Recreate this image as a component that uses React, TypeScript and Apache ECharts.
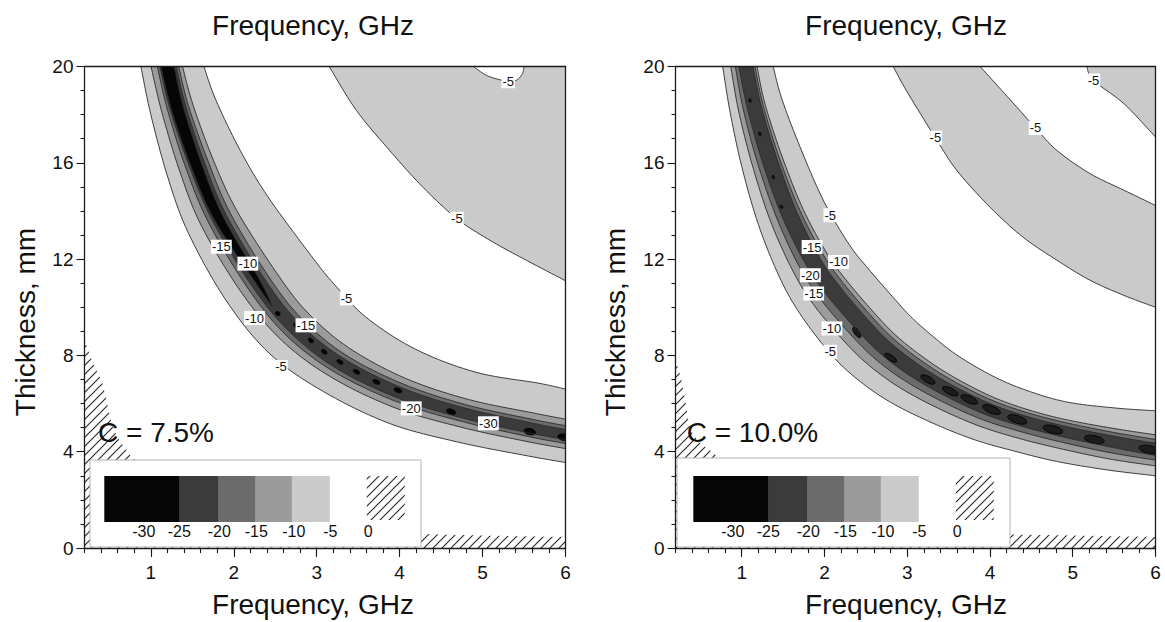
import React, { useEffect, useRef } from "react";
import * as echarts from "echarts";

type P = [number, number];

// ---------- axes / text ----------
const X_MIN = 0.2;
const X_MAX = 6;
const Y_MIN = 0;
const Y_MAX = 20;
const xTickLabels = [1, 2, 3, 4, 5, 6];
const legendLevels = ["-30", "-25", "-20", "-15", "-10", "-5", "0"];
const panelTitles = ["C = 7.5%", "C = 10.0%"];

// ---------- Panel A (C = 7.5 %) : contour lines [frequency GHz, thickness mm] ----------
const aLo5: P[] = [[0.88, 20], [1.0, 18.0], [1.2, 15.45], [1.45, 13.1], [1.906, 10.29], [2.43, 8.08], [3.08, 6.5], [3.88, 5.17], [4.69, 4.41], [5.49, 3.86], [6.0, 3.55]];
const aLo10: P[] = [[1.002, 20], [1.133, 18.1], [1.35, 15.63], [1.613, 13.36], [2.089, 10.63], [2.576, 8.63], [3.177, 7.09], [3.945, 5.82], [4.738, 5.02], [5.524, 4.43], [6.0, 4.13]];
const aLo15: P[] = [[1.078, 20], [1.204, 18.16], [1.429, 15.72], [1.7, 13.49], [2.17, 10.79], [2.63, 8.84], [3.213, 7.31], [3.97, 6.07], [4.757, 5.25], [5.537, 4.64], [6.0, 4.34]];
const aLo20: P[] = [[1.108, 20], [1.236, 18.18], [1.473, 15.78], [1.748, 13.57], [2.22, 10.88], [2.669, 8.99], [3.238, 7.46], [3.985, 6.22], [4.768, 5.39], [5.546, 4.79], [6.0, 4.5]];
const aHi20: P[] = [[1.306, 20], [1.424, 18.32], [1.649, 15.99], [1.911, 13.82], [2.372, 11.17], [2.777, 9.39], [3.31, 7.9], [4.029, 6.65], [4.8, 5.8], [5.571, 5.21], [6.0, 4.92]];
const aHi15: P[] = [[1.336, 20], [1.455, 18.35], [1.693, 16.04], [1.959, 13.9], [2.423, 11.26], [2.815, 9.54], [3.335, 8.05], [4.044, 6.81], [4.812, 5.94], [5.58, 5.36], [6.0, 5.08]];
const aHi10: P[] = [[1.382, 20], [1.51, 18.39], [1.754, 16.11], [2.036, 14.02], [2.514, 11.44], [2.884, 9.8], [3.381, 8.33], [4.069, 7.05], [4.83, 6.17], [5.596, 5.62], [6.0, 5.35]];
const aHi5: P[] = [[1.64, 20], [1.785, 18.6], [2.08, 16.5], [2.41, 14.6], [2.92, 12.2], [3.2, 11.0], [3.59, 9.6], [4.19, 8.26], [4.92, 7.3], [5.67, 6.85], [6.0, 6.6]];
const aLo25: P[] = [[1.12, 20], [1.251, 18.19], [1.49, 15.8], [1.772, 13.6], [2.271, 10.98], [2.47, 10.0]];
const aHi25: P[] = [[1.28, 20], [1.393, 18.3], [1.614, 15.94], [1.872, 13.76], [2.322, 11.07], [2.47, 10.0]];
const aMinima: P[] = [[2.53, 9.74], [2.75, 9.25], [2.93, 8.62], [3.09, 8.15], [3.28, 7.73], [3.48, 7.32], [3.72, 6.9], [3.98, 6.55], [4.62, 5.66], [5.57, 4.83], [5.98, 4.6]];
const aFar5: P[] = [[3.15, 20], [3.48, 18.17], [3.88, 16.51], [4.28, 14.99], [4.69, 13.68], [5.09, 12.78], [5.49, 12.02], [6.0, 11.1]];
const aIsland5: P[] = [[4.89, 20], [5.05, 19.63], [5.25, 19.42], [5.4, 19.42], [5.48, 19.7], [5.5, 20]];
const aZero: P[] = [[0.2, 8.65], [0.3, 7.7], [0.415, 6.83], [0.52, 5.3], [0.6, 4.6], [0.72, 4.0], [0.8, 3.7], [1.0, 3.0], [1.4, 2.1], [2.0, 1.3], [3.0, 0.85], [4.0, 0.62], [5.0, 0.52], [6.0, 0.46]];
const aLabelText = ["-15", "-10", "-5", "-10", "-15", "-5", "-20", "-30", "-5", "-5"];
const aLabelPos: P[] = [[1.85, 12.51], [2.17, 11.81], [3.36, 10.37], [2.25, 9.55], [2.87, 9.25], [2.57, 7.52], [4.14, 5.8], [5.07, 5.18], [4.69, 13.68], [5.31, 19.39]];

// ---------- Panel B (C = 10.0 %) ----------
const bLo5: P[] = [[0.77, 20], [0.86, 18.1], [1.0, 15.85], [1.2, 13.45], [1.45, 11.3], [1.7, 9.75], [2.07, 8.08], [2.4, 7.0], [2.8, 6.05], [3.3, 5.2], [3.81, 4.5], [4.3, 4.02], [4.8, 3.6], [5.4, 3.25], [6.0, 3.0]];
const bLo10: P[] = [[0.868, 20], [0.961, 18.18], [1.124, 15.95], [1.344, 13.61], [1.612, 11.55], [1.866, 10.12], [2.235, 8.6], [2.541, 7.58], [2.91, 6.66], [3.37, 5.81], [3.867, 5.07], [4.342, 4.56], [4.833, 4.14], [5.423, 3.71], [6.0, 3.41]];
const bLo15: P[] = [[0.923, 20], [1.018, 18.23], [1.19, 16.01], [1.424, 13.7], [1.697, 11.68], [1.957, 10.32], [2.318, 8.86], [2.611, 7.86], [2.965, 6.96], [3.406, 6.11], [3.896, 5.35], [4.363, 4.84], [4.85, 4.41], [5.436, 3.97], [6.0, 3.65]];
const bLo20: P[] = [[0.965, 20], [1.068, 18.27], [1.248, 16.05], [1.488, 13.77], [1.773, 11.79], [2.032, 10.49], [2.385, 9.08], [2.669, 8.1], [3.01, 7.21], [3.434, 6.36], [3.919, 5.58], [4.38, 5.06], [4.863, 4.63], [5.448, 4.2], [6.0, 3.84]];
const bHi20: P[] = [[1.136, 20], [1.232, 18.4], [1.423, 16.2], [1.664, 13.97], [1.943, 12.05], [2.19, 10.84], [2.52, 9.5], [2.784, 8.57], [3.1, 7.71], [3.492, 6.86], [3.966, 6.05], [4.414, 5.5], [4.89, 5.07], [5.472, 4.66], [6.0, 4.35]];
const bHi15: P[] = [[1.16, 20], [1.257, 18.42], [1.453, 16.22], [1.704, 14.02], [1.994, 12.13], [2.24, 10.95], [2.565, 9.64], [2.822, 8.73], [3.13, 7.88], [3.511, 7.03], [3.982, 6.2], [4.425, 5.65], [4.899, 5.22], [5.479, 4.81], [6.0, 4.51]];
const bHi10: P[] = [[1.185, 20], [1.282, 18.44], [1.489, 16.25], [1.744, 14.06], [2.037, 12.2], [2.281, 11.05], [2.603, 9.76], [2.854, 8.86], [3.155, 8.02], [3.527, 7.17], [3.995, 6.33], [4.435, 5.77], [4.907, 5.34], [5.487, 4.97], [6.0, 4.7]];
const bHi5: P[] = [[1.38, 20], [1.49, 18.6], [1.73, 16.45], [2.0, 14.35], [2.3, 12.6], [2.53, 11.6], [2.82, 10.45], [3.04, 9.62], [3.3, 8.82], [3.62, 7.97], [4.07, 7.08], [4.49, 6.49], [4.95, 6.05], [5.53, 5.81], [6.0, 5.7]];
const bMinima: P[] = [[1.1, 18.59], [1.22, 17.2], [1.38, 15.41], [1.48, 14.17], [2.39, 8.95], [2.8, 7.9], [3.25, 7.0], [3.52, 6.51], [3.75, 6.17], [4.02, 5.75], [4.33, 5.34], [4.76, 4.92], [5.26, 4.51], [5.92, 4.1]];
const bFar5a: P[] = [[2.83, 20], [2.99, 19.0], [3.34, 17.04], [3.6, 15.68], [4.0, 14.16], [4.4, 12.91], [4.81, 11.95], [5.21, 11.12], [5.62, 10.49], [6.0, 10.0]];
const bFar5b: P[] = [[3.88, 20], [4.21, 18.75], [4.55, 17.45], [4.81, 16.51], [5.21, 15.55], [5.62, 14.86], [6.0, 14.23]];
const bFar5c: P[] = [[5.17, 20], [5.25, 19.42], [5.62, 18.45], [6.0, 17.07]];
const bZero: P[] = [[0.2, 7.8], [0.27, 7.0], [0.33, 5.9], [0.38, 4.95], [0.5, 4.35], [0.64, 4.0], [0.75, 3.65], [1.0, 2.9], [1.4, 2.05], [2.0, 1.3], [3.0, 0.85], [4.0, 0.6], [5.0, 0.52], [6.0, 0.46]];
const bLabelText = ["-5", "-15", "-10", "-20", "-15", "-10", "-5", "-5", "-5", "-5"];
const bLabelPos: P[] = [[2.07, 13.82], [1.85, 12.5], [2.17, 11.88], [1.83, 11.33], [1.87, 10.57], [2.09, 9.12], [2.07, 8.15], [3.34, 17.04], [4.55, 17.45], [5.25, 19.42]];

// ---------- styles ----------
const FONT = "'Liberation Sans', Arial, Helvetica, sans-serif";
const C5 = "#cacaca";
const C10 = "#9b9b9b";
const C15 = "#6b6b6b";
const C20 = "#3b3b3b";
const C25 = "#060606";
const LINE = "#2b2b2b";
const AXIS = "#1a1a1a";
const HATCH_URL =
  "data:image/svg+xml;charset=utf-8," +
  encodeURIComponent(
    '<svg xmlns="http://www.w3.org/2000/svg" width="9" height="9"><path d="M-1 10L10 -1M-1 1L1 -1M8 10L10 8" stroke="#2b2b2b" stroke-width="1.2"/></svg>'
  );
const hatchFill: any = { image: HATCH_URL, repeat: "repeat", imageWidth: 9, imageHeight: 9 };

function catmull(pts: number[][], seg = 10): number[][] {
  if (pts.length < 3) return pts.slice();
  const out: number[][] = [];
  for (let i = 0; i < pts.length - 1; i++) {
    const p0 = pts[Math.max(i - 1, 0)];
    const p1 = pts[i];
    const p2 = pts[i + 1];
    const p3 = pts[Math.min(i + 2, pts.length - 1)];
    for (let s = 0; s < seg; s++) {
      const t = s / seg;
      const t2 = t * t;
      const t3 = t2 * t;
      const f = (k: number) =>
        0.5 *
        (2 * p1[k] +
          (-p0[k] + p2[k]) * t +
          (2 * p0[k] - 5 * p1[k] + 4 * p2[k] - p3[k]) * t2 +
          (-p0[k] + 3 * p1[k] - 3 * p2[k] + p3[k]) * t3);
      out.push([f(0), f(1)]);
    }
  }
  out.push(pts[pts.length - 1]);
  return out;
}

const panels: any[] = [
  {
    zero: aZero,
    fills: [
      { kind: "corner", lo: aFar5, color: C5 },
      { kind: "closed", lo: aIsland5, color: "#ffffff" },
      { kind: "band", lo: aLo5, hi: aHi5, color: C5 },
      { kind: "band", lo: aLo10, hi: aHi10, color: C10 },
      { kind: "band", lo: aLo15, hi: aHi15, color: C15 },
      { kind: "band", lo: aLo20, hi: aHi20, color: C20 },
      { kind: "band", lo: aLo25, hi: aHi25, color: C25 },
    ],
    lines: [aFar5, aIsland5, aLo5, aHi5, aLo10, aHi10, aLo15, aHi15, aLo20, aHi20, aLo25, aHi25],
    minima: aMinima,
    dotSize: (f: number) => {
      const rx = Math.max(2.6, 1.05 * f);
      return [rx, Math.max(2, rx * 0.55)];
    },
    dotStyle: { fill: C25, stroke: "#000", lineWidth: 0.5 },
    labels: aLabelText,
    labelPos: aLabelPos,
  },
  {
    zero: bZero,
    fills: [
      { kind: "band", lo: bFar5a, hi: bFar5b, color: C5 },
      { kind: "corner", lo: bFar5c, color: C5 },
      { kind: "band", lo: bLo5, hi: bHi5, color: C5 },
      { kind: "band", lo: bLo10, hi: bHi10, color: C10 },
      { kind: "band", lo: bLo15, hi: bHi15, color: C15 },
      { kind: "band", lo: bLo20, hi: bHi20, color: C20 },
    ],
    lines: [bFar5a, bFar5b, bFar5c, bLo5, bHi5, bLo10, bHi10, bLo15, bHi15, bLo20, bHi20],
    minima: bMinima,
    dotSize: (f: number) => {
      const rx = f < 2 ? 1.8 : Math.min(10, 1.5 + 2 * f);
      return [rx, Math.max(1.2, rx * 0.38)];
    },
    dotStyle: { fill: "#1c1c1c", stroke: "#000", lineWidth: 0.8 },
    labels: bLabelText,
    labelPos: bLabelPos,
  },
];

function buildPanel(pn: any, api: any) {
  const sm = (arr: P[]) => catmull(arr.map((p) => api.coord(p)));
  const kids: any[] = [];
  const zb = sm(pn.zero);
  kids.push({
    type: "polygon",
    shape: { points: zb.concat([api.coord([X_MAX, Y_MIN]), api.coord([X_MIN, Y_MIN])]) },
    style: { fill: hatchFill },
  });
  for (const f of pn.fills) {
    let pts: number[][];
    if (f.kind === "band") pts = sm(f.lo).concat(sm(f.hi).reverse());
    else if (f.kind === "corner") pts = sm(f.lo).concat([api.coord([X_MAX, Y_MAX])]);
    else pts = sm(f.lo);
    kids.push({ type: "polygon", shape: { points: pts }, style: { fill: f.color } });
  }
  const mins: P[] = pn.minima;
  mins.forEach((d, i) => {
    const c = api.coord(d);
    const a = api.coord(mins[Math.max(0, i - 1)]);
    const b = api.coord(mins[Math.min(mins.length - 1, i + 1)]);
    const ang = Math.atan2(-(b[1] - a[1]), b[0] - a[0]);
    const s = pn.dotSize(d[0]);
    kids.push({
      type: "ellipse",
      x: c[0],
      y: c[1],
      rotation: ang,
      shape: { cx: 0, cy: 0, rx: s[0], ry: s[1] },
      style: pn.dotStyle,
    });
  });
  for (const ln of pn.lines) {
    kids.push({ type: "polyline", shape: { points: sm(ln) }, style: { stroke: LINE, lineWidth: 0.9, fill: "none" } });
  }
  pn.labelPos.forEach((p: P, i: number) => {
    const c = api.coord(p);
    kids.push({
      type: "text",
      x: c[0],
      y: c[1],
      style: {
        text: pn.labels[i],
        fontSize: 13,
        fontFamily: FONT,
        fill: "#111",
        align: "center",
        verticalAlign: "middle",
        backgroundColor: "#fff",
        padding: [1, 1, 0, 1],
      },
    });
  });
  return { type: "group", children: kids };
}

const grids = [
  { left: 84.5, top: 66.5, width: 481, height: 481.5 },
  { left: 675.5, top: 66.5, width: 480, height: 481.5 },
];

const axisLine = { show: true, onZero: false, lineStyle: { color: AXIS, width: 1.3 } };
const tickLine = { color: AXIS, width: 1.1 };

function makeX(g: number) {
  return [
    {
      gridIndex: g, type: "value", min: X_MIN, max: X_MAX, interval: 0.2, position: "bottom", z: 10,
      axisLine, axisTick: { show: true, length: 5, lineStyle: tickLine },
      axisLabel: {
        show: true, interval: 0, margin: 15, fontSize: 19, fontFamily: FONT, color: "#111",
        formatter: (v: number) => {
          const r = Math.round(v);
          return Math.abs(v - r) < 1e-6 && xTickLabels.indexOf(r) >= 0 ? String(r) : "";
        },
      },
      splitLine: { show: false },
    },
    {
      gridIndex: g, type: "value", min: X_MIN, max: X_MAX, position: "bottom", z: 10,
      axisLine: { show: false }, axisLabel: { show: false },
      axisTick: { show: true, length: 9, customValues: xTickLabels, lineStyle: tickLine },
      splitLine: { show: false },
    },
    {
      gridIndex: g, type: "value", min: X_MIN, max: X_MAX, position: "top", z: 10,
      axisLine, axisTick: { show: false }, axisLabel: { show: false }, splitLine: { show: false },
    },
  ];
}

function makeY(g: number) {
  return [
    {
      gridIndex: g, type: "value", min: Y_MIN, max: Y_MAX, interval: 4, position: "left", z: 10,
      axisLine, axisTick: { show: true, length: 8, lineStyle: tickLine },
      minorTick: { show: true, splitNumber: 4, length: 4, lineStyle: tickLine },
      axisLabel: { margin: 11, fontSize: 19, fontFamily: FONT, color: "#111" },
      splitLine: { show: false }, minorSplitLine: { show: false },
    },
    {
      gridIndex: g, type: "value", min: Y_MIN, max: Y_MAX, position: "right", z: 10,
      axisLine, axisTick: { show: false }, axisLabel: { show: false }, splitLine: { show: false },
    },
  ];
}

function text(x: number, y: number, t: string, size: number, align = "center", rot = 0) {
  return {
    type: "text", x, y, rotation: rot, z: 100,
    style: { text: t, fontSize: size, fontFamily: FONT, fill: "#111", align, verticalAlign: "middle" },
  };
}

function legend(boxX: number, boxY: number, boxW: number, boxH: number, sx: number) {
  const els: any[] = [];
  els.push({ type: "rect", z: 90, shape: { x: boxX, y: boxY, width: boxW, height: boxH }, style: { fill: "#fff", stroke: "#b4b4b4", lineWidth: 1 } });
  const edges = [0, 75, 114, 151, 187.5, 225];
  const cols = [C25, C20, C15, C10, C5];
  for (let i = 0; i < cols.length; i++) {
    els.push({ type: "rect", z: 91, shape: { x: sx + edges[i], y: 476, width: edges[i + 1] - edges[i] + 0.5, height: 46 }, style: { fill: cols[i] } });
  }
  els.push({ type: "rect", z: 91, shape: { x: sx + 262.5, y: 476, width: 38, height: 44 }, style: { fill: hatchFill } });
  const lx = [39.5, 75, 115, 152, 189.5, 226, 264];
  legendLevels.forEach((t, i) => {
    els.push({ type: "text", z: 92, x: sx + lx[i], y: 531, style: { text: t, fontSize: 16, fontFamily: FONT, fill: "#111", align: "center", verticalAlign: "middle" } });
  });
  return els;
}

export default function App() {
  const ref = useRef<HTMLDivElement>(null);
  useEffect(() => {
    if (!ref.current) return;
    const chart = echarts.init(ref.current, undefined, { renderer: "svg" });
    const option: any = {
      animation: false,
      backgroundColor: "#fff",
      grid: grids,
      xAxis: [...makeX(0), ...makeX(1)],
      yAxis: [...makeY(0), ...makeY(1)],
      series: [
        {
          type: "custom", xAxisIndex: 0, yAxisIndex: 0, clip: true, silent: true, z: 1,
          data: [[X_MIN, Y_MIN]],
          renderItem: (_p: any, api: any) => buildPanel(panels[0], api),
        },
        {
          type: "custom", xAxisIndex: 3, yAxisIndex: 2, clip: true, silent: true, z: 1,
          data: [[X_MIN, Y_MIN]],
          renderItem: (_p: any, api: any) => buildPanel(panels[1], api),
        },
      ],
      graphic: [
        text(313, 25, "Frequency, GHz", 28),
        text(906, 25, "Frequency, GHz", 28),
        text(313, 604, "Frequency, GHz", 28),
        text(906, 604, "Frequency, GHz", 28),
        text(25, 322, "Thickness, mm", 28, "center", Math.PI / 2),
        text(615, 322, "Thickness, mm", 28, "center", Math.PI / 2),
        ...legend(90, 460, 331, 87, 104.3),
        ...legend(677, 458, 333, 89, 693.3),
        text(98, 432, panelTitles[0], 28, "left"),
        text(686.7, 432, panelTitles[1], 28, "left"),
      ],
    };
    chart.setOption(option);
    return () => chart.dispose();
  }, []);
  return (
    <div
      ref={ref}
      style={{ position: "fixed", left: 0, top: 0, width: 1165, height: 622, background: "#fff" }}
    />
  );
}
